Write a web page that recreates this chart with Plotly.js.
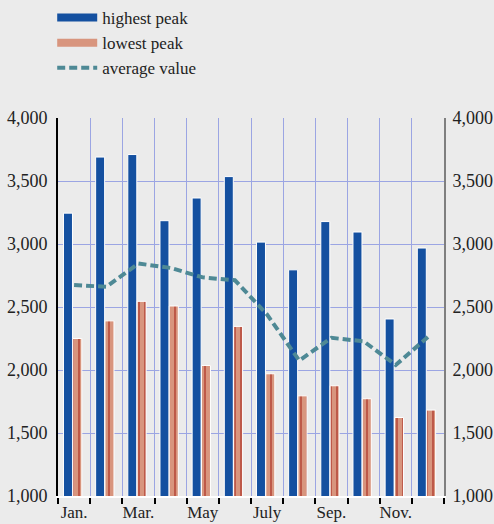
<!DOCTYPE html>
<html>
<head>
<meta charset="utf-8">
<script src="https://cdn.plot.ly/plotly-3.0.1.min.js"></script>
<style>html,body{margin:0;padding:0;background:#ebebeb;}#chart{width:494px;height:524px;}</style>
</head>
<body>
<div id="chart"></div>
<script>
var months = ["Jan.", "Feb.", "Mar.", "Apr.", "May", "June", "July", "Aug.", "Sep.", "Oct.", "Nov.", "Dec."];
var tickLabels = ["Jan.", "", "Mar.", "", "May", "", "July", "", "Sep.", "", "Nov.", ""];
var highestPeak = [3245, 3690, 3710, 3185, 3365, 3535, 3015, 2795, 3178, 3095, 2405, 2968];
var lowestPeak = [2250, 2390, 2545, 2508, 2036, 2346, 1970, 1795, 1875, 1772, 1623, 1682];
var averageValue = [2675, 2660, 2845, 2810, 2735, 2712, 2440, 2075, 2255, 2228, 2040, 2262];
var yTicks = [1000, 1500, 2000, 2500, 3000, 3500, 4000];

var serif = "Liberation Serif";
var gridColor = "#9ba5e3";

var traces = [
  {type: "scatter", mode: "lines", name: "highest peak", x: [null], y: [null],
   line: {color: "#1450a0", width: 8}, legendrank: 1, hoverinfo: "skip"},
  {type: "scatter", mode: "lines", name: "lowest peak", x: [null], y: [null],
   line: {color: "#d8957e", width: 8}, legendrank: 2, hoverinfo: "skip"},
  {type: "bar", name: "highest peak", x: months, y: highestPeak, showlegend: false,
   offset: -0.33, width: 0.28,
   marker: {color: "#1450a0", line: {color: "#ffffff", width: 1}}, hoverinfo: "skip"},
  {type: "bar", name: "lowest peak", x: months, y: lowestPeak, showlegend: false,
   offset: -0.04, width: 0.28,
   marker: {color: "#d8957e", line: {color: "#ffffff", width: 1},
            pattern: {shape: "|", size: 6, solidity: 0.22, fgcolor: "#b0392c", bgcolor: "#d8957e", fillmode: "replace"}},
   hoverinfo: "skip"},
  {type: "scatter", mode: "lines", name: "average value", x: months, y: averageValue, yaxis: "y2",
   line: {color: "#4e8995", width: 4, dash: "8px,4px"}, legendrank: 3, hoverinfo: "skip"}
];

var layout = {
  width: 494, height: 524,
  margin: {l: 58, r: 50, t: 118, b: 28, autoexpand: false},
  paper_bgcolor: "#ebebeb",
  plot_bgcolor: "#ebebeb",
  font: {family: serif, size: 18, color: "#222222"},
  barmode: "overlay",
  showlegend: true,
  legend: {x: -0.015, xanchor: "left", yref: "container", y: 1.0, yanchor: "top",
           bgcolor: "rgba(0,0,0,0)", font: {family: serif, size: 17, color: "#222222"},
           itemwidth: 40, traceorder: "normal"},
  xaxis: {type: "category", categoryarray: months, range: [-0.5, 11.5],
          tickmode: "array", tickvals: months, ticktext: tickLabels, tickangle: 0,
          tickson: "boundaries", ticks: "outside", ticklen: 6, tickwidth: 2, tickcolor: "#000000",
          showgrid: true, gridcolor: gridColor, gridwidth: 1,
          showline: true, linecolor: "#ffffff", linewidth: 2,
          tickfont: {family: serif, size: 17, color: "#222222"}, zeroline: false, fixedrange: true},
  yaxis: {range: [1000, 4000], tickmode: "array", tickvals: yTicks, tickformat: ",d",
          showgrid: true, gridcolor: gridColor, gridwidth: 1, zeroline: false,
          showline: true, linecolor: "#000000", linewidth: 2, ticks: "", ticklabelstandoff: 5,
          tickfont: {family: serif, size: 18, color: "#222222"}, fixedrange: true},
  yaxis2: {range: [1000, 4000], overlaying: "y", side: "right", tickmode: "array", tickvals: yTicks,
           tickformat: ",d", showgrid: false, zeroline: false,
           showline: true, linecolor: "#7f7f7f", linewidth: 2, ticks: "", ticklabelstandoff: 3,
           tickfont: {family: serif, size: 18, color: "#222222"}, fixedrange: true}
};

Plotly.newPlot("chart", traces, layout, {displayModeBar: false, staticPlot: true});
</script>
</body>
</html>
